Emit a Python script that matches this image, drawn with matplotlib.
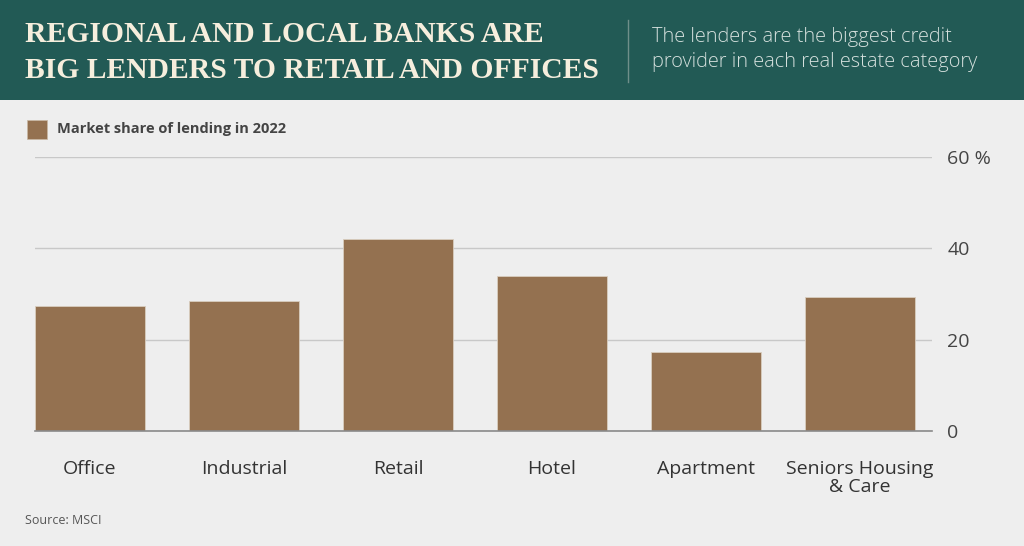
import matplotlib.pyplot as plt
from matplotlib.patches import Rectangle

categories = ['Office', 'Industrial', 'Retail', 'Hotel', 'Apartment', 'Seniors Housing\n& Care']
market_share = [27.4, 28.5, 42.0, 33.9, 17.3, 29.4]
y_ticks = [0, 20, 40, 60]
y_tick_labels = ['0', '20', '40', '60 %']

BG = '#eeeeee'
HEADER = '#225a55'
BAR = '#947150'


def main():
    fig = plt.figure(figsize=(10.24, 5.46), dpi=100)
    fig.patch.set_facecolor(BG)

    # header band
    fig.patches.append(Rectangle((0, 1 - 100 / 546), 1, 100 / 546, transform=fig.transFigure,
                                 facecolor=HEADER, edgecolor='none', zorder=0))
    fig.text(25 / 1024, 1 - 35 / 546, 'REGIONAL AND LOCAL BANKS ARE', family='Liberation Serif',
             weight='bold', fontsize=21.3, color='#f6eedd', va='center', ha='left')
    fig.text(25 / 1024, 1 - 70 / 546, 'BIG LENDERS TO RETAIL AND OFFICES', family='Liberation Serif',
             weight='bold', fontsize=21.3, color='#f6eedd', va='center', ha='left')
    fig.lines.append(plt.Line2D([628 / 1024, 628 / 1024], [1 - 20 / 546, 1 - 82 / 546],
                                transform=fig.transFigure, color='#6f8f8a', linewidth=1))
    fig.text(652 / 1024, 1 - 37 / 546, 'The lenders are the biggest credit', family='Open Sans',
             weight='light', fontsize=14.4, color='#d5e0dd', va='center', ha='left')
    fig.text(652 / 1024, 1 - 62 / 546, 'provider in each real estate category', family='Open Sans',
             weight='light', fontsize=14.4, color='#d5e0dd', va='center', ha='left')

    # legend
    fig.patches.append(Rectangle((27 / 1024, 1 - 139 / 546), 20 / 1024, 19 / 546, transform=fig.transFigure,
                                 facecolor=BAR, edgecolor='#c9b8a4', linewidth=0.5))
    fig.text(57 / 1024, 1 - 129 / 546, 'Market share of lending in 2022', family='Open Sans',
             weight='bold', fontsize=10.5, color='#444444', va='center', ha='left')

    ax = fig.add_axes([35 / 1024, 1 - 430.7 / 546, (932 - 35) / 1024, (430.7 - 157.3) / 546])
    ax.set_facecolor(BG)
    x = range(len(categories))
    ax.bar(x, market_share, width=0.711, color=BAR, edgecolor='#d9cdbf', linewidth=0.6, zorder=2)
    ax.set_xlim(-0.3555, 5.467)
    ax.set_ylim(0, 60)

    ax.set_yticks(y_ticks)
    ax.set_yticklabels(y_tick_labels)
    ax.yaxis.tick_right()
    ax.grid(axis='y', color='#c8c8c8', linewidth=1, zorder=0)
    ax.tick_params(axis='y', length=0, pad=11, labelsize=14, labelcolor='#444444')
    for lbl in ax.get_yticklabels():
        lbl.set_family('Open Sans')

    ax.set_xticks(list(x))
    ax.set_xticklabels(categories, family='Open Sans', fontsize=14, color='#333333', linespacing=1.0)
    ax.tick_params(axis='x', length=0, pad=21)

    for side in ['top', 'left', 'right']:
        ax.spines[side].set_visible(False)
    ax.spines['bottom'].set_color('#8a8a8a')
    ax.spines['bottom'].set_linewidth(1.2)
    ax.spines['bottom'].set_zorder(3)

    fig.text(25 / 1024, 1 - 521 / 546, 'Source: MSCI', family='Open Sans', fontsize=9,
             color='#555555', va='center', ha='left')

    fig.savefig('out.png', dpi=100, facecolor=BG)


if __name__ == "__main__":
    main()
